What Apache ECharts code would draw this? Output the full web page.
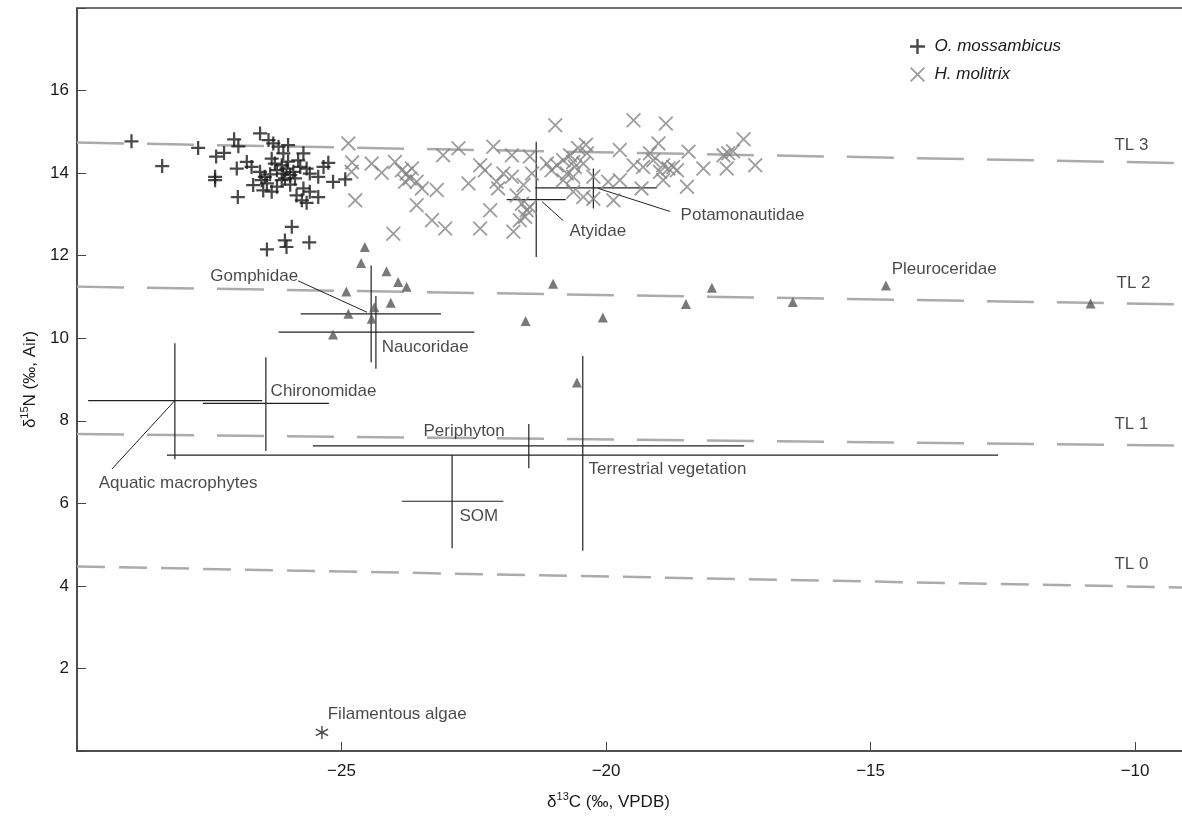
<!DOCTYPE html>
<html>
<head>
<meta charset="utf-8">
<title>δ13C / δ15N biplot</title>
<script src="https://cdn.jsdelivr.net/npm/echarts@6/dist/echarts.min.js"></script>
<style>
  html, body { margin: 0; padding: 0; background: #fff; }
  #chart { width: 1182px; height: 818px; }
</style>
</head>
<body>
<div id="chart"></div>
<script>
// Fish: O. mossambicus (+)
const mossX = [-28.97, -28.39, -27.71, -27.37, -27.22, -27.03, -26.95, -27.39, -27.39, -26.96, -26.54, -25.94, -26.07, -26.04, -26.41, -25.61, -24.93, -25.16,
  -26.38, -26.29, -26.19, -26.01, -26.10, -26.32, -25.72, -25.82, -26.79, -26.98, -26.70, -26.54, -26.45, -26.67, -26.41, -26.48, -26.32, -26.22, -26.13,
  -26.10, -26.04, -25.97, -25.91, -25.78, -25.66, -25.60, -25.44, -25.34, -25.25, -25.72, -25.85, -25.60, -25.75, -25.66, -25.44, -26.22, -26.13, -26.26,
  -26.51, -26.07, -25.97, -25.88, -26.01, -26.35];
const mossY = [14.77, 14.17, 14.61, 14.40, 14.49, 14.82, 14.65, 13.91, 13.83, 13.42, 14.96, 12.70, 12.37, 12.21, 12.15, 12.32, 13.85, 13.79,
  14.80, 14.72, 14.64, 14.68, 14.48, 14.35, 14.48, 14.31, 14.27, 14.11, 14.15, 14.03, 13.91, 13.71, 13.75, 13.58, 13.55, 13.67, 13.83,
  13.99, 14.11, 13.95, 14.03, 14.15, 14.11, 13.99, 13.91, 14.15, 14.25, 13.63, 13.46, 13.55, 13.34, 13.28, 13.42, 14.07, 14.19, 14.23,
  13.83, 13.87, 13.72, 13.87, 14.28, 13.97];

// Fish: H. molitrix (x)
const moliX = [-24.87, -24.80, -24.81, -24.74, -24.43, -24.24, -23.99, -23.86, -23.77, -23.67, -23.71, -23.80, -23.58, -23.48, -23.20, -23.58, -23.29, -23.04,
  -24.02, -23.08, -22.79, -22.60, -22.38, -22.29, -22.13, -22.07, -22.04, -21.94, -21.78, -21.78, -22.19, -22.38, -21.75, -21.69, -21.59, -21.50, -21.63,
  -21.53, -21.44, -21.44, -21.40, -21.56, -20.96, -21.12, -21.03, -20.93, -20.81, -20.68, -20.53, -20.38, -20.36, -20.62, -20.74, -20.59, -20.43, -20.81,
  -20.62, -20.24, -20.62, -20.43, -20.24, -19.86, -19.96, -19.74, -19.33, -18.92, -18.47, -19.48, -18.87, -17.40, -19.74, -19.01, -18.44, -19.17, -19.11,
  -19.30, -19.48, -18.92, -18.82, -18.73, -18.66, -18.98, -18.16, -17.78, -17.69, -17.60, -17.72, -17.18];
const moliY = [14.72, 14.26, 14.03, 13.34, 14.23, 14.01, 14.27, 14.07, 13.99, 14.11, 13.87, 13.79, 13.79, 13.63, 13.59, 13.22, 12.86, 12.66,
  12.53, 14.43, 14.60, 13.75, 14.19, 14.07, 14.64, 13.79, 13.63, 13.99, 14.43, 13.91, 13.10, 12.66, 12.58, 13.46, 13.26, 13.10, 12.86,
  12.94, 13.18, 14.40, 13.99, 13.71, 15.16, 14.23, 14.07, 14.19, 14.31, 14.43, 14.61, 14.69, 14.48, 14.27, 13.99, 14.15, 14.23, 13.83,
  13.91, 13.91, 13.55, 13.42, 13.38, 13.34, 13.79, 13.83, 13.63, 13.83, 13.67, 15.28, 15.20, 14.82, 14.56, 14.72, 14.52, 14.48, 14.31,
  14.15, 14.19, 14.19, 14.11, 14.15, 14.07, 14.03, 14.11, 14.43, 14.48, 14.53, 14.11, 14.19];

// Invertebrates (triangles)
const invX = [-24.56, -24.63, -24.15, -23.93, -23.77, -24.91, -24.07, -24.38, -24.87, -24.43, -25.16, -21.52, -21.00, -20.06, -18.49, -18.00, -16.47, -14.71, -10.84, -20.55];
const invY = [12.21, 11.82, 11.62, 11.36, 11.25, 11.13, 10.86, 10.75, 10.59, 10.47, 10.09, 10.42, 11.32, 10.50, 10.83, 11.22, 10.88, 11.28, 10.84, 8.93];

// Filamentous algae (single value)
const algaeX = [-25.37];
const algaeY = [0.45];

// Mean ± range crosses
const barTaxa = ['Aquatic macrophytes', 'Chironomidae', 'Gomphidae', 'Naucoridae', 'Periphyton', 'Terrestrial vegetation', 'SOM', 'Atyidae', 'Potamonautidae'];
const barMeanX = [-28.15, -26.43, -24.44, -24.35, -21.46, -20.44, -22.91, -21.32, -20.24];
const barMeanY = [8.49, 8.42, 10.59, 10.15, 7.39, 7.17, 6.05, 13.36, 13.64];
const barXLo = [-29.79, -27.62, -25.77, -26.19, -25.54, -28.30, -23.86, -21.88, -21.34];
const barXHi = [-26.50, -25.24, -23.12, -22.49, -17.39, -12.59, -21.94, -20.76, -19.04];
const barYLo = [7.07, 7.27, 9.42, 9.26, 6.85, 4.85, 4.91, 11.97, 13.14];
const barYHi = [9.88, 9.54, 11.76, 11.02, 7.92, 9.57, 7.17, 14.76, 14.11];

// Trophic level lines (value at x = -30 and at x = -9)
const tlNames = ['TL 0', 'TL 1', 'TL 2', 'TL 3'];
const tlLeft = [4.47, 7.68, 11.25, 14.74];
const tlRight = [3.96, 7.40, 10.82, 14.24];

// Text labels and where they sit (left edge, middle)
const labelText = ['Gomphidae', 'Naucoridae', 'Chironomidae', 'Aquatic macrophytes', 'Periphyton', 'Terrestrial vegetation', 'SOM', 'Atyidae',
  'Potamonautidae', 'Pleuroceridae', 'Filamentous algae', 'TL 3', 'TL 2', 'TL 1', 'TL 0'];
const labelX = [-27.49, -24.25, -26.35, -29.60, -23.46, -20.34, -22.78, -20.70, -18.60, -14.61, -25.27, -10.40, -10.36, -10.40, -10.40];
const labelY = [11.51, 9.77, 8.72, 6.49, 7.75, 6.83, 5.69, 12.58, 12.97, 11.68, 0.88, 14.67, 11.32, 7.92, 4.52];

// Leader lines: [x1, y1, x2, y2]
const leaders = [
  [-25.82, 11.39, -24.52, 10.63],
  [-29.34, 6.83, -28.15, 8.49],
  [-21.21, 13.31, -20.81, 12.85],
  [-20.15, 13.63, -18.79, 13.07]
];

const FONT = 'Liberation Sans';
const PLUS = 'path://M4.2,0H5.8V4.2H10V5.8H5.8V10H4.2V5.8H0V4.2H4.2Z';
const CROSS = 'path://M0,0.85L0.85,0L5,4.15L9.15,0L10,0.85L5.85,5L10,9.15L9.15,10L5,5.85L0.85,10L0,9.15L4.15,5Z';
const STAR = 'path://M4.5,0L5.5,0L5.5,10L4.5,10Z M0.42,2.93L0.92,2.07L9.58,7.07L9.08,7.93Z M0.42,7.07L9.08,2.07L9.58,2.93L0.92,7.93Z';

const zip = (xs, ys) => xs.map((x, i) => [x, ys[i]]);

const chart = echarts.init(document.getElementById('chart'));

const tlSeries = tlNames.map((n, i) => ({
    type: 'line',
    name: n,
    data: [[-30, tlLeft[i]], [-9, tlRight[i]]],
    symbol: 'none',
    silent: true,
    z: 1,
    lineStyle: {
        color: '#ababab',
        width: 2.5,
        type: i === 0 ? [28, 14] : [47, 23]
    }
}));

const option = {
    animation: false,
    backgroundColor: '#fff',
    textStyle: { fontFamily: FONT },
    grid: {
        left: 77, top: 8, width: 1111, height: 743,
        outerBoundsMode: 'none',
        containLabel: false,
        show: true, borderColor: '#444', borderWidth: 1.5
    },
    legend: {
        data: ['O. mossambicus', 'H. molitrix'],
        orient: 'vertical',
        left: 905, top: 33,
        itemWidth: 24, itemHeight: 15, itemGap: 11,
        textStyle: { fontFamily: FONT, fontSize: 17, fontStyle: 'italic', color: '#1a1a1a' }
    },
    xAxis: {
        type: 'value',
        min: -30, max: -9, interval: 5,
        splitLine: { show: false },
        axisLine: { lineStyle: { color: '#444', width: 1.5 } },
        axisTick: { inside: true, length: 9, lineStyle: { color: '#444' } },
        axisLabel: {
            margin: 12, fontSize: 17, color: '#1a1a1a', fontFamily: FONT,
            formatter: v => (v % 5 !== 0 || v === -30 ? '' : String(v).replace('-', '\u2212'))
        },
        name: '{t|δ}{s|13}{t|C (‰, VPDB)}',
        nameLocation: 'middle',
        nameGap: 40,
        nameTextStyle: {
            padding: [0, 48, 0, 0],
            rich: {
                t: { fontSize: 17, color: '#1a1a1a', fontFamily: FONT, lineHeight: 22 },
                s: { fontSize: 11, color: '#1a1a1a', fontFamily: FONT, verticalAlign: 'top', lineHeight: 14 }
            }
        }
    },
    yAxis: {
        type: 'value',
        min: 0, max: 18, interval: 2,
        splitLine: { show: false },
        axisLine: { lineStyle: { color: '#444', width: 1.5 } },
        axisTick: { inside: true, length: 9, lineStyle: { color: '#444' } },
        axisLabel: {
            margin: 8, fontSize: 17, color: '#1a1a1a', fontFamily: FONT,
            formatter: v => (v === 0 || v === 18 ? '' : String(v))
        },
        name: '{t|δ}{s|15}{t|N (‰, Air)}',
        nameLocation: 'middle',
        nameGap: 36,
        nameTextStyle: {
            rich: {
                t: { fontSize: 17, color: '#1a1a1a', fontFamily: FONT, lineHeight: 22 },
                s: { fontSize: 11, color: '#1a1a1a', fontFamily: FONT, verticalAlign: 'top', lineHeight: 14 }
            }
        }
    },
    series: [
        ...tlSeries,
        {
            // error crosses
            type: 'custom',
            name: 'ranges',
            silent: true,
            z: 3,
            data: barTaxa.map((t, i) => [barMeanX[i], barMeanY[i], barXLo[i], barXHi[i], barYLo[i], barYHi[i]]),
            encode: { x: [0, 2, 3], y: [1, 4, 5] },
            renderItem: (params, api) => {
                const xl = api.coord([api.value(2), api.value(1)]);
                const xh = api.coord([api.value(3), api.value(1)]);
                const yl = api.coord([api.value(0), api.value(4)]);
                const yh = api.coord([api.value(0), api.value(5)]);
                const st = { stroke: '#222', lineWidth: 1.2 };
                return {
                    type: 'group',
                    children: [
                        { type: 'line', shape: { x1: xl[0], y1: xl[1], x2: xh[0], y2: xh[1] }, style: st },
                        { type: 'line', shape: { x1: yl[0], y1: yl[1], x2: yh[0], y2: yh[1] }, style: st }
                    ]
                };
            }
        },
        {
            type: 'custom',
            name: 'leaders',
            silent: true,
            z: 3,
            data: leaders,
            encode: { x: [0, 2], y: [1, 3] },
            renderItem: (params, api) => {
                const a = api.coord([api.value(0), api.value(1)]);
                const b = api.coord([api.value(2), api.value(3)]);
                return { type: 'line', shape: { x1: a[0], y1: a[1], x2: b[0], y2: b[1] }, style: { stroke: '#222', lineWidth: 1 } };
            }
        },
        {
            type: 'scatter',
            name: 'H. molitrix',
            data: zip(moliX, moliY),
            symbol: CROSS,
            symbolSize: 15,
            itemStyle: { color: '#848484' },
            z: 4
        },
        {
            type: 'scatter',
            name: 'O. mossambicus',
            data: zip(mossX, mossY),
            symbol: PLUS,
            symbolSize: 14,
            itemStyle: { color: '#1a1a1a' },
            z: 5
        },
        {
            type: 'scatter',
            name: 'invertebrates',
            data: zip(invX, invY),
            symbol: 'triangle',
            symbolSize: [10, 10],
            itemStyle: { color: '#585858' },
            z: 5
        },
        {
            type: 'scatter',
            name: 'algae',
            data: zip(algaeX, algaeY),
            symbol: STAR,
            symbolSize: 13,
            itemStyle: { color: '#1a1a1a' },
            z: 5
        },
        {
            type: 'scatter',
            name: 'labels',
            silent: true,
            z: 6,
            symbolSize: 1,
            itemStyle: { color: 'rgba(0,0,0,0)' },
            data: labelText.map((t, i) => ({ name: t, value: [labelX[i], labelY[i]] })),
            label: {
                show: true,
                position: 'right',
                distance: 0,
                formatter: p => p.name,
                fontFamily: FONT,
                fontSize: 17,
                color: '#1a1a1a'
            }
        }
    ]
};

chart.setOption(option);
</script>
</body>
</html>
